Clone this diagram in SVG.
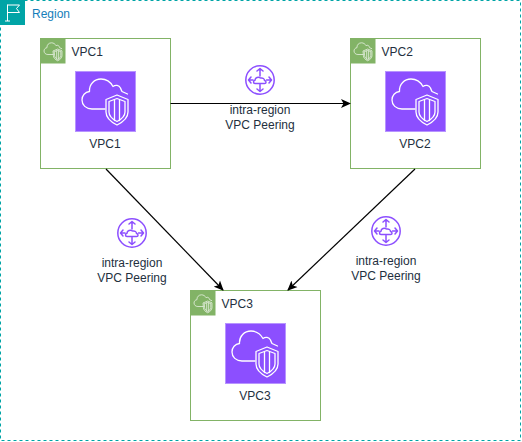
<svg xmlns="http://www.w3.org/2000/svg" width="522" height="442" viewBox="0 0 522 442">
<style>
text{font-family:"Liberation Sans",Arial,sans-serif;font-size:12px;fill:#232F3E}
.c{text-anchor:middle}
.box{fill:#fff;stroke:#82B366;stroke-width:1}
.tab{fill:#82B366}
.w{fill:none;stroke:#fff;stroke-linejoin:round;stroke-linecap:round}
.p{fill:none;stroke:#8C4FFF;stroke-width:1.5;stroke-linejoin:round;stroke-linecap:round}
.conn{fill:none;stroke:#000;stroke-width:1.2}
</style>
<defs>
<marker id="arr" viewBox="0 0 10 10" refX="9" refY="5" markerWidth="10" markerHeight="10" markerUnits="userSpaceOnUse" orient="auto"><path d="M0 0.500L10 5L0 9.500L2.500 5Z" fill="#000"/></marker>
<g id="vpcglyph">
<path class="w" d="M30 38H17C11 38 7 34 7 29C7 24.500 10 21 14.500 20.500C14 13 19.500 8 26 8C31.500 8 35.500 11 38 15.500C40.500 13.500 44 14 45.500 17C46 18.500 46.500 19.500 47 20.500L52.500 23"/>
<path class="w" d="M31 28.500L42 24L53 28.500V41C53 47 48 51 42 54C36 51 31 47 31 41Z"/>
<path class="w" d="M34 30.500L42 27.500L50 30.500V41C50 45.500 46 48.500 42 50.500C38 48.500 34 45.500 34 41Z"/>
<path class="w" d="M39.500 29V49.500M44.500 29V49.500"/>
</g>
<g id="big"><rect x="0.500" y="0.500" width="60" height="60" fill="#8C4FFF" stroke="#B794FF" stroke-width="1"/><g stroke-width="1.3"><use href="#vpcglyph"/></g></g>
<g id="tabicon"><rect width="25" height="25" class="tab"/><g transform="translate(0.800,1.200) scale(0.39)" stroke-width="2" opacity="0.85"><use href="#vpcglyph"/></g></g>
<g id="peer">
<circle cx="15" cy="15" r="14.200" class="p"/>
<path class="p" d="M15 3.500V11M12 6L15 3.500L18 6M15 19.500V26.500M12 24L15 26.500L18 24M3.500 15H8M6 12L3.500 15L6 18M21.500 15H26.500M24 12L26.500 15L24 18"/>
<path class="p" d="M10 18.500C8 18.500 8 15.500 10 15.200C10 12.500 13.500 11.500 15.500 13C18 12.500 19.500 14 19.500 15.500C21.500 16 21.500 18.500 19.500 18.500Z"/>
</g>
</defs>
<g id="region">
<rect x="0.500" y="0.500" width="520" height="440" fill="#fff" stroke="#00A4A6" stroke-width="1" stroke-dasharray="3 3"/>
<rect x="0" y="0" width="25" height="25" fill="#00A4A6"/>
<path d="M7.500 21V4.500M7.500 5H19.500L16.500 8.500L19.500 12.500H7.500M5 21H10" fill="none" stroke="#fff" stroke-width="1"/>
<text x="32" y="18" style="fill:#147EBA">Region</text>
</g>
<g id="vpc1">
<rect class="box" x="40.500" y="38.500" width="130" height="130"/>
<use href="#tabicon" x="40.500" y="38.500"/>
<text x="71.500" y="56">VPC1</text>
<use href="#big" x="75" y="71"/>
<text class="c" x="105" y="148">VPC1</text>
</g>
<g id="vpc2">
<rect class="box" x="350.500" y="38.500" width="130" height="130"/>
<use href="#tabicon" x="350.500" y="38.500"/>
<text x="381.500" y="56">VPC2</text>
<use href="#big" x="385" y="71"/>
<text class="c" x="415" y="148">VPC2</text>
</g>
<g id="vpc3">
<rect class="box" x="190.500" y="290.500" width="130" height="130"/>
<use href="#tabicon" x="190.500" y="290.500"/>
<text x="221.500" y="308">VPC3</text>
<use href="#big" x="225" y="323"/>
<text class="c" x="255" y="400">VPC3</text>
</g>
<g id="connectors">
<path class="conn" marker-end="url(#arr)" d="M170.500 103.500H350"/>
<path class="conn" marker-end="url(#arr)" d="M106 169L223 290"/>
<path class="conn" marker-end="url(#arr)" d="M415 169L288 290"/>
</g>
<g id="peering1"><use href="#peer" x="245" y="65"/><text class="c" x="260" y="114">intra-region</text><text class="c" x="260" y="129">VPC Peering</text></g>
<g id="peering2"><use href="#peer" x="117" y="218"/><text class="c" x="132" y="267">intra-region</text><text class="c" x="132" y="282">VPC Peering</text></g>
<g id="peering3"><use href="#peer" x="371" y="216"/><text class="c" x="386" y="265">intra-region</text><text class="c" x="386" y="280">VPC Peering</text></g>
</svg>
